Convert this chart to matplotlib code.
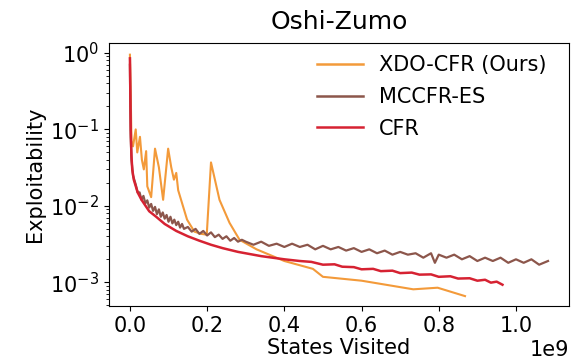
import matplotlib
matplotlib.use("Agg")
import matplotlib.pyplot as plt
import numpy as np

# values (x in units of 1e9 states visited)
xdo_x = [0.0, 0.002, 0.004, 0.008, 0.015, 0.019, 0.026, 0.031, 0.036, 0.042, 0.045,
         0.055, 0.065, 0.075, 0.086, 0.099, 0.107, 0.114, 0.120, 0.125, 0.148,
         0.167, 0.185, 0.199, 0.210, 0.232, 0.258, 0.284, 0.328, 0.400, 0.474,
         0.500, 0.600, 0.734, 0.797, 0.868]
xdo_y = [0.95, 0.30, 0.07, 0.06, 0.10, 0.05, 0.08, 0.04, 0.03, 0.052, 0.018,
         0.013, 0.056, 0.032, 0.012, 0.056, 0.032, 0.022, 0.027, 0.016, 0.0066,
         0.0046, 0.0043, 0.0042, 0.037, 0.012, 0.006, 0.0036, 0.0027, 0.0019, 0.0015,
         0.00118, 0.00105, 0.00081, 0.00085, 0.00066]

mccfr_x = [0.0, 0.001, 0.002, 0.004, 0.008, 0.015, 0.020, 0.025, 0.030, 0.035,
           0.040, 0.045, 0.050, 0.055, 0.060, 0.065, 0.070, 0.075, 0.080, 0.085,
           0.090, 0.095, 0.100, 0.105, 0.110, 0.115, 0.120, 0.125, 0.130, 0.135,
           0.14, 0.15, 0.16, 0.17, 0.18, 0.19, 0.20, 0.21, 0.22, 0.23,
           0.24, 0.25, 0.26, 0.27, 0.28, 0.29,
           0.30, 0.32, 0.34, 0.36, 0.38, 0.40, 0.42, 0.44, 0.46, 0.48,
           0.50, 0.52, 0.54, 0.56, 0.58, 0.60, 0.62, 0.64, 0.66, 0.68,
           0.70, 0.72, 0.74, 0.76, 0.78, 0.79, 0.80, 0.82, 0.84, 0.86,
           0.88, 0.90, 0.92, 0.94, 0.96, 0.98, 1.00, 1.02, 1.04, 1.06, 1.083]
mccfr_y = [0.70, 0.20, 0.08, 0.04, 0.025, 0.019, 0.015, 0.015, 0.012, 0.0135,
           0.0108, 0.0118, 0.0095, 0.0106, 0.0086, 0.0097, 0.0078, 0.0090, 0.0072, 0.0082,
           0.0068, 0.0076, 0.0062, 0.0072, 0.0059, 0.0066, 0.0056, 0.0062, 0.0052, 0.0058,
           0.0050, 0.0053, 0.0046, 0.0050, 0.0043, 0.0047, 0.0041, 0.0045, 0.0039, 0.0042,
           0.0037, 0.0040, 0.0035, 0.0038, 0.0034, 0.0036,
           0.0034, 0.0031, 0.0034, 0.0030, 0.0032, 0.0029, 0.0032, 0.0029, 0.0031, 0.0027,
           0.0030, 0.0027, 0.0029, 0.0026, 0.0028, 0.0025, 0.0027, 0.0024, 0.0026, 0.0023,
           0.0025, 0.0023, 0.0024, 0.0021, 0.0024, 0.0018, 0.0023, 0.0021, 0.0023, 0.0020,
           0.0022, 0.0019, 0.0021, 0.0019, 0.0021, 0.0018, 0.0020, 0.0018, 0.0020, 0.0017, 0.0019]

cfr_x = [0.0, 0.001, 0.002, 0.004, 0.006, 0.010, 0.020, 0.030, 0.050, 0.068,
         0.090, 0.120, 0.150, 0.180, 0.210, 0.240, 0.280, 0.340, 0.400, 0.440,
         0.47, 0.50, 0.53, 0.55, 0.58, 0.60, 0.63, 0.65, 0.68, 0.70, 0.73, 0.75,
         0.78, 0.80, 0.83, 0.85, 0.88, 0.90, 0.92, 0.935, 0.95, 0.965]
cfr_y = [0.85, 0.30, 0.10, 0.045, 0.030, 0.022, 0.015, 0.012, 0.0085, 0.0072,
         0.0058, 0.0047, 0.0040, 0.0035, 0.0031, 0.0028, 0.0025, 0.0022, 0.0020, 0.0019,
         0.00185, 0.0017, 0.00172, 0.00160, 0.00158, 0.00148, 0.00150, 0.00140, 0.00142, 0.00132,
         0.00134, 0.00126, 0.00127, 0.00118, 0.00120, 0.00112, 0.00113, 0.00105, 0.00108, 0.00099,
         0.00102, 0.00093]

labels = ["XDO-CFR (Ours)", "MCCFR-ES", "CFR"]
colors = ["#f39a3a", "#8c564b", "#d62232"]

fig = plt.figure(figsize=(5.72, 3.62), dpi=100)
ax = fig.add_axes([0.1906, 0.1547, 0.804, 0.7265])

ax.plot(np.array(xdo_x) * 1e9, xdo_y, color=colors[0], lw=1.5, label=labels[0])
ax.plot(np.array(mccfr_x) * 1e9, mccfr_y, color=colors[1], lw=1.6, label=labels[1])
ax.plot(np.array(cfr_x) * 1e9, cfr_y, color=colors[2], lw=1.8, label=labels[2])

ax.set_yscale("log")
ax.set_ylim(4.9e-4, 1.35)
ax.set_title("Oshi-Zumo", fontsize=18, pad=10)
ax.set_xlabel("States Visited", fontsize=15, labelpad=2)
ax.set_ylabel("Exploitability", fontsize=15)
ax.tick_params(labelsize=15)
ax.xaxis.get_offset_text().set_fontsize(15)
leg = ax.legend(fontsize=15, frameon=False, loc="upper right",
                bbox_to_anchor=(0.97, 0.985), borderaxespad=0,
                handlelength=2.2, labelspacing=0.56)
for line in leg.get_lines():
    line.set_linewidth(1.8)

fig.savefig("out.png")
